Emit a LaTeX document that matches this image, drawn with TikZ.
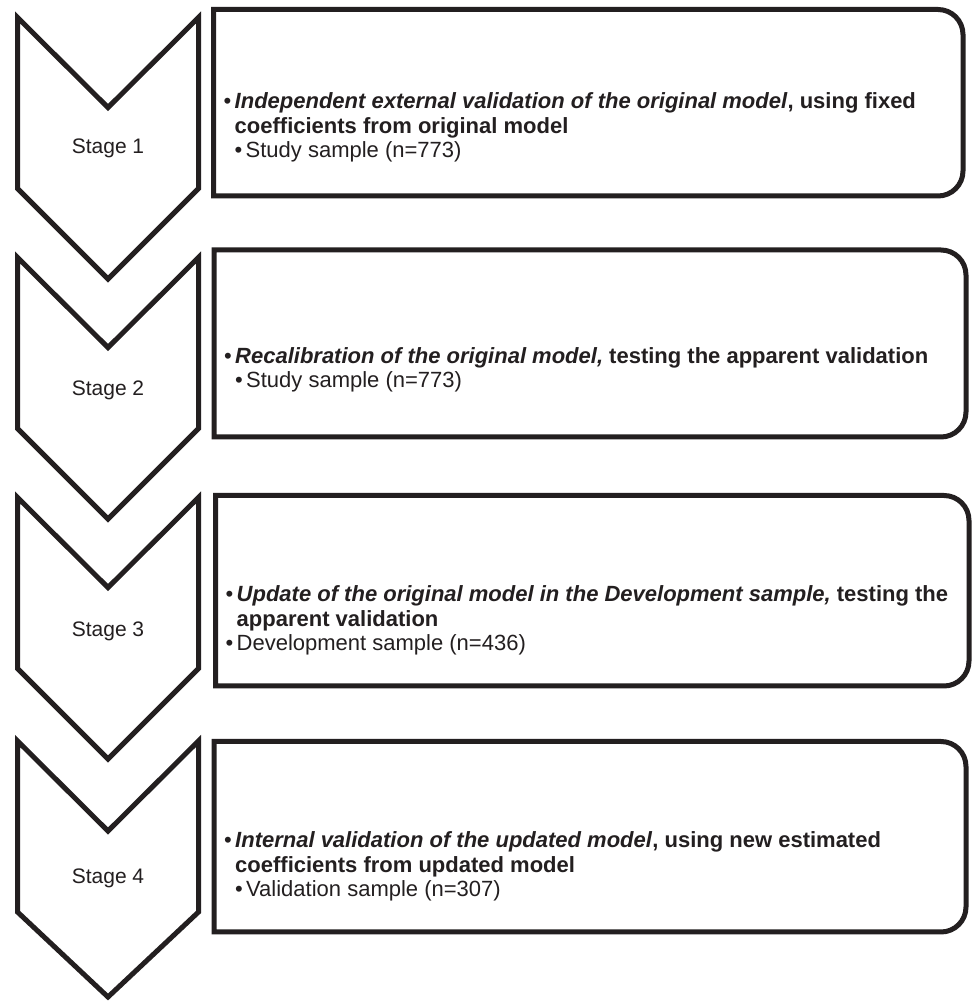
\documentclass[tikz,border=0pt]{standalone}
\usepackage{fontspec}
\setmainfont{Liberation Sans}
\definecolor{ink}{HTML}{231F20}
\newcommand{\bl}{\makebox[11pt][l]{\textbullet}}
\begin{document}
\begin{tikzpicture}[x=1pt,y=1pt,
  chev/.style={draw=ink, line width=5pt, line join=miter},
  boxline/.style={draw=ink, line width=5pt, line join=miter},
  boxarea/.style={rectangle, inner sep=0pt, outer sep=0pt},
  stagelabel/.style={font=\fontsize{21}{25}\selectfont, text=ink, inner sep=0pt},
  boxtext/.style={font=\fontsize{22}{24.5}\selectfont, text=ink, align=left, inner sep=0pt, anchor=west}]
\useasboundingbox[fill=white] (0,0) rectangle (975,1004);

% chevrons
\foreach \t/\d in {986.5/90.5,746.5/90.5,506.5/90.5,263/85} {
  \draw[chev] (17.5,\t) -- (108,\t-90) -- (198.5,\t) -- (198.5,\t-171)
    -- (108,\t-171-\d) -- (17.5,\t-171) -- cycle;
}
% stage labels
\node[stagelabel] (stage1) at (108,856) {Stage 1};
\node[stagelabel] (stage2) at (108,614) {Stage 2};
\node[stagelabel] (stage3) at (108,373) {Stage 3};
\node[stagelabel] (stage4) at (108,126) {Stage 4};

% boxes
\node[boxarea, minimum width=749.5, minimum height=186.5] (box1) at (588.25,901.25) {};
\node[boxarea, minimum width=752, minimum height=187] (box2) at (590,660.5) {};
\node[boxarea, minimum width=753.5, minimum height=190.5] (box3) at (592.25,413.25) {};
\node[boxarea, minimum width=752, minimum height=190.5] (box4) at (590,167.25) {};

\foreach \b in {box1,box2,box3,box4} {
  \draw[boxline] (\b.south west) -- (\b.north west) -- ([xshift=-25]\b.north east)
    arc[start angle=90,end angle=0,radius=25] -- ([yshift=25]\b.south east)
    arc[start angle=0,end angle=-90,radius=25] -- cycle;
}

\node[boxtext] (text1) at ([xshift=10,yshift=-25]box1.west) {%
  \bl\textbf{\textit{Independent external validation of the original model}}\textbf{, using fixed}\\
  \hspace*{11pt}\textbf{coefficients from original model}\\
  \hspace*{11pt}\bl Study sample (n=773)};

\node[boxtext] (text2) at ([xshift=10,yshift=-26.5]box2.west) {%
  \bl\textbf{\textit{Recalibration of the original model,}} \textbf{testing the apparent validation}\\
  \hspace*{11pt}\bl Study sample (n=773)};

\node[boxtext] (text3) at ([xshift=10,yshift=-30]box3.west) {%
  \bl\textbf{\textit{Update of the original model in the Development sample,}} \textbf{testing the}\\
  \hspace*{11pt}\textbf{apparent validation}\\
  \bl Development sample (n=436)};

\node[boxtext] (text4) at ([xshift=10,yshift=-30]box4.west) {%
  \bl\textbf{\textit{Internal validation of the updated model}}\textbf{, using new estimated}\\
  \hspace*{11pt}\textbf{coefficients from updated model}\\
  \hspace*{11pt}\bl Validation sample (n=307)};
\end{tikzpicture}
\end{document}
